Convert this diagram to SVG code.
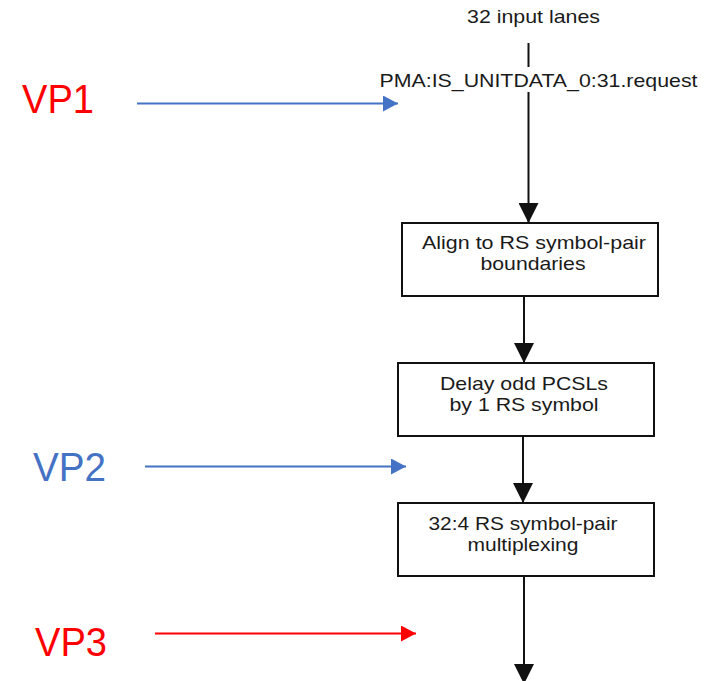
<svg xmlns="http://www.w3.org/2000/svg" width="715" height="681" viewBox="0 0 715 681">
<style>
.t{font-family:"Liberation Sans",Arial,sans-serif;font-size:18.5px;fill:#1a1a1a;text-anchor:middle}
.vp{font-family:"Liberation Sans",Arial,sans-serif;font-size:40px}
.box{fill:#fff;stroke:#111;stroke-width:2}
.c{stroke:#111;stroke-width:2;fill:none}
</style>
<defs>
<marker id="ah" viewBox="0 0 20 20" refX="20" refY="10" markerWidth="20" markerHeight="20" markerUnits="userSpaceOnUse" orient="auto"><path d="M0,0 L20,10 L0,20 Z" fill="#111"/></marker>
<marker id="ab" viewBox="0 0 15 16" refX="15" refY="8" markerWidth="15" markerHeight="16" markerUnits="userSpaceOnUse" orient="auto"><path d="M0,0 L15,8 L0,16 Z" fill="#4472C4"/></marker>
<marker id="ar" viewBox="0 0 15 16" refX="15" refY="8" markerWidth="15" markerHeight="16" markerUnits="userSpaceOnUse" orient="auto"><path d="M0,0 L15,8 L0,16 Z" fill="#FF0000"/></marker>
</defs>
<rect width="715" height="681" fill="#fff"/>
<g id="connectors">
<line class="c" x1="528.5" y1="43" x2="528.5" y2="67"/>
<line class="c" x1="528.5" y1="92" x2="528.5" y2="223" marker-end="url(#ah)"/>
<line class="c" x1="524" y1="296" x2="524" y2="363" marker-end="url(#ah)"/>
<line class="c" x1="523" y1="436" x2="523" y2="503" marker-end="url(#ah)"/>
<line class="c" x1="524" y1="576" x2="524" y2="684" marker-end="url(#ah)"/>
<line x1="137" y1="103.5" x2="398" y2="103.5" stroke="#4472C4" stroke-width="2" marker-end="url(#ab)"/>
<line x1="145" y1="466.5" x2="406" y2="466.5" stroke="#4472C4" stroke-width="2" marker-end="url(#ab)"/>
<line x1="155" y1="633.5" x2="416" y2="633.5" stroke="#FF0000" stroke-width="2" marker-end="url(#ar)"/>
</g>
<g id="input-label">
<text class="t" x="533.5" y="23" textLength="133" lengthAdjust="spacingAndGlyphs">32 input lanes</text>
<text class="t" x="538.5" y="87" textLength="318" lengthAdjust="spacingAndGlyphs">PMA:IS_UNITDATA_0:31.request</text>
</g>
<g id="align">
<rect class="box" x="402" y="223" width="256" height="73"/>
<text class="t" x="534" y="249" textLength="224" lengthAdjust="spacingAndGlyphs">Align to RS symbol-pair</text>
<text class="t" x="533" y="270" textLength="105" lengthAdjust="spacingAndGlyphs">boundaries</text>
</g>
<g id="delay">
<rect class="box" x="398" y="363" width="256" height="73"/>
<text class="t" x="524" y="390" textLength="168" lengthAdjust="spacingAndGlyphs">Delay odd PCSLs</text>
<text class="t" x="524" y="411" textLength="149" lengthAdjust="spacingAndGlyphs">by 1 RS symbol</text>
</g>
<g id="mux">
<rect class="box" x="398" y="503" width="256" height="73"/>
<text class="t" x="523" y="530" textLength="189" lengthAdjust="spacingAndGlyphs">32:4 RS symbol-pair</text>
<text class="t" x="523" y="551" textLength="111" lengthAdjust="spacingAndGlyphs">multiplexing</text>
</g>
<g id="vp1"><text class="vp" x="22" y="113" fill="#FF0000" textLength="72" lengthAdjust="spacingAndGlyphs">VP1</text></g>
<g id="vp2"><text class="vp" x="33" y="481" fill="#4472C4" textLength="73" lengthAdjust="spacingAndGlyphs">VP2</text></g>
<g id="vp3"><text class="vp" x="35" y="656" fill="#FF0000" textLength="72" lengthAdjust="spacingAndGlyphs">VP3</text></g>
</svg>
